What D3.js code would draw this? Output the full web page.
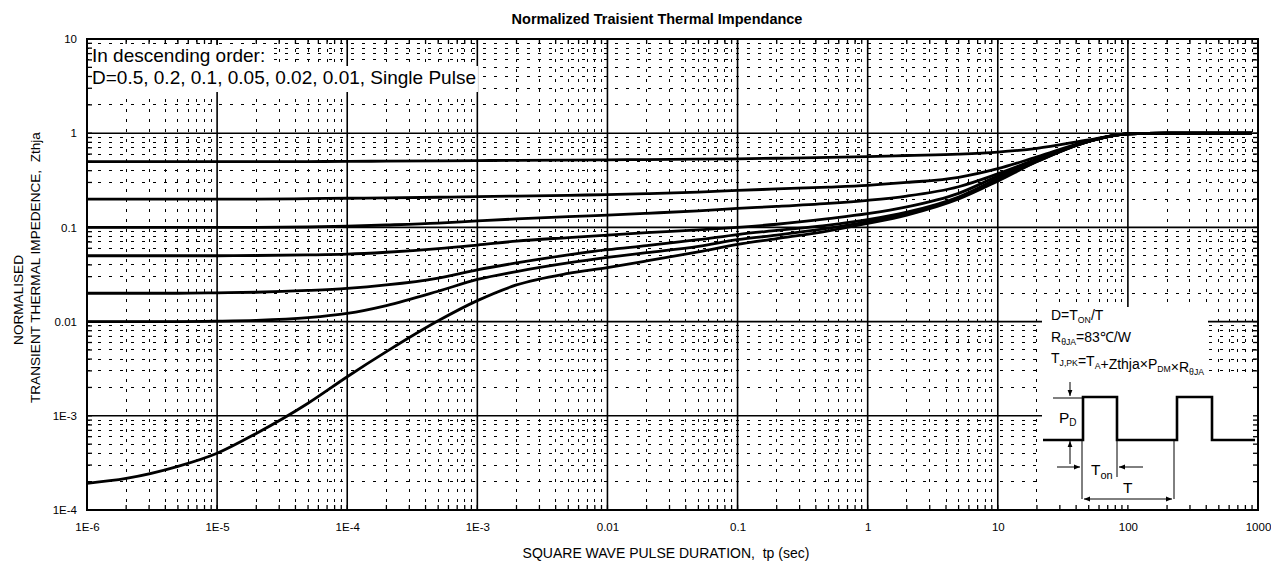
<!DOCTYPE html>
<html>
<head>
<meta charset="utf-8">
<script src="https://cdn.jsdelivr.net/npm/d3@7"></script>
<style>
  body { margin: 0; background: #fff; }
  text { font-family: "Liberation Sans", Arial, sans-serif; fill: #000; }
</style>
</head>
<body>
<div id="chart"></div>
<script>
// pulse duration (sec), shared by every curve
const tp = [1e-6, 2e-6, 5e-6, 1e-5, 2e-5, 5e-5, 1e-4, 2e-4, 5e-4, 1e-3, 2e-3, 5e-3,
  0.01, 0.02, 0.05, 0.1, 0.2, 0.5, 1, 2, 5, 10, 20, 50, 100, 200, 500, 900];

// normalised Zthja per duty cycle
const zD050 = [0.5, 0.5, 0.5, 0.5, 0.5, 0.5, 0.502, 0.505, 0.509, 0.512, 0.515, 0.518,
  0.521, 0.525, 0.53, 0.535, 0.542, 0.553, 0.565, 0.58, 0.6, 0.63, 0.69, 0.85, 0.985, 1, 1, 1];
const zD020 = [0.2, 0.2, 0.2, 0.2, 0.2, 0.202, 0.204, 0.206, 0.209, 0.212, 0.215, 0.219,
  0.223, 0.228, 0.237, 0.247, 0.256, 0.268, 0.28, 0.3, 0.34, 0.42, 0.56, 0.83, 0.985, 1, 1, 1];
const zD010 = [0.1, 0.1, 0.1, 0.1, 0.1, 0.101, 0.103, 0.106, 0.111, 0.117, 0.123, 0.13,
  0.135, 0.141, 0.15, 0.159, 0.167, 0.18, 0.194, 0.215, 0.27, 0.37, 0.53, 0.82, 0.985, 1, 1, 1];
const zD005 = [0.05, 0.05, 0.05, 0.05, 0.0503, 0.051, 0.052, 0.0545, 0.0595, 0.065, 0.0715, 0.078,
  0.083, 0.088, 0.094, 0.1, 0.108, 0.124, 0.14, 0.165, 0.23, 0.35, 0.52, 0.82, 0.985, 1, 1, 1];
const zD002 = [0.02, 0.02, 0.02, 0.0202, 0.0205, 0.0214, 0.0225, 0.0245, 0.029, 0.0355, 0.042, 0.051,
  0.058, 0.064, 0.074, 0.084, 0.093, 0.106, 0.121, 0.145, 0.21, 0.33, 0.51, 0.82, 0.985, 1, 1, 1];
const zD001 = [0.01, 0.01, 0.01, 0.0101, 0.0103, 0.011, 0.0122, 0.0148, 0.021, 0.028, 0.034, 0.042,
  0.048, 0.054, 0.063, 0.074, 0.083, 0.098, 0.115, 0.14, 0.205, 0.32, 0.5, 0.82, 0.985, 1, 1, 1];
const zSingle = [1.92e-4, 2.16e-4, 2.9e-4, 4.0e-4, 6.5e-4, 1.36e-3, 2.6e-3, 4.8e-3, 0.0102, 0.0167, 0.0245, 0.0325,
  0.0375, 0.044, 0.055, 0.066, 0.076, 0.092, 0.11, 0.135, 0.2, 0.31, 0.5, 0.82, 0.985, 1, 1, 1];

const xTickValues = [1e-6, 1e-5, 1e-4, 1e-3, 0.01, 0.1, 1, 10, 100, 1000];
const xTickLabels = ["1E-6", "1E-5", "1E-4", "1E-3", "0.01", "0.1", "1", "10", "100", "1000"];
const yTickValues = [1e-4, 1e-3, 0.01, 0.1, 1, 10];
const yTickLabels = ["1E-4", "1E-3", "0.01", "0.1", "1", "10"];

const width = 1271, height = 561;
const margin = {top: 39, right: 13, bottom: 51, left: 87};
const innerW = width - margin.left - margin.right;
const innerH = height - margin.top - margin.bottom;

const svg = d3.select("#chart").append("svg")
  .attr("width", width)
  .attr("height", height);

const defs = svg.append("defs");
defs.append("marker")
  .attr("id", "arr")
  .attr("viewBox", "0 0 10 10")
  .attr("refX", 10).attr("refY", 5)
  .attr("markerWidth", 6).attr("markerHeight", 6)
  .attr("orient", "auto-start-reverse")
  .append("path").attr("d", "M0,1L10,5L0,9z").attr("fill", "#000");

const g = svg.append("g").attr("transform", `translate(${margin.left},${margin.top})`);

const x = d3.scaleLog().domain([1e-6, 1000]).range([0, innerW]);
const y = d3.scaleLog().domain([1e-4, 10]).range([innerH, 0]);

const isMajor = v => Math.abs(Math.log10(v) - Math.round(Math.log10(v))) < 1e-6;
const xMinor = x.ticks().filter(v => !isMajor(v));
const yMinor = y.ticks().filter(v => !isMajor(v));

// minor grid (dashed)
g.append("g").selectAll("line").data(yMinor).join("line")
  .attr("x1", 0).attr("x2", innerW)
  .attr("y1", d => y(d)).attr("y2", d => y(d))
  .attr("stroke", "#000").attr("stroke-width", 1)
  .attr("stroke-dasharray", "3,8").attr("shape-rendering", "crispEdges");

g.append("g").selectAll("line").data(xMinor).join("line")
  .attr("x1", d => x(d)).attr("x2", d => x(d))
  .attr("y1", 0).attr("y2", innerH)
  .attr("stroke", "#000").attr("stroke-width", 1)
  .attr("stroke-dasharray", "3,7").attr("shape-rendering", "crispEdges");

// major grid
g.append("g").selectAll("line").data(yTickValues).join("line")
  .attr("x1", 0).attr("x2", innerW)
  .attr("y1", d => y(d)).attr("y2", d => y(d))
  .attr("stroke", "#000").attr("stroke-width", 1.6);

g.append("g").selectAll("line").data(xTickValues).join("line")
  .attr("x1", d => x(d)).attr("x2", d => x(d))
  .attr("y1", 0).attr("y2", innerH)
  .attr("stroke", "#000").attr("stroke-width", 1.6);

// curves
const series = [zD050, zD020, zD010, zD005, zD002, zD001, zSingle];
const line = d3.line()
  .x(d => x(d[0]))
  .y(d => y(d[1]))
  .curve(d3.curveMonotoneX);

g.append("g").selectAll("path").data(series).join("path")
  .attr("d", s => line(tp.map((t, i) => [t, s[i]])))
  .attr("fill", "none")
  .attr("stroke", "#000")
  .attr("stroke-width", 2.8)
  .attr("stroke-linejoin", "round");

// legend text with white backing
const legendLines = ["In descending order:", "D=0.5, 0.2, 0.1, 0.05, 0.02, 0.01, Single Pulse"];
const legend = svg.append("g");
legendLines.forEach((s, i) => {
  const row = legend.append("g");
  const rect = row.append("rect").attr("fill", "#fff");
  const t = row.append("text")
    .attr("x", 92).attr("y", 61.5 + i * 22.5)
    .attr("font-size", 19)
    .text(s);
  const b = t.node().getBBox();
  rect.attr("x", 89).attr("y", i === 0 ? 45 : 66)
    .attr("width", b.x + b.width - 89 + 2)
    .attr("height", i === 0 ? 21 : 26);
});

// inset with formula and pulse diagram
const inset = svg.append("g");
inset.append("rect").attr("x", 1042).attr("y", 307).attr("width", 166).attr("height", 71).attr("fill", "#fff");
inset.append("rect").attr("x", 1042).attr("y", 376).attr("width", 215).attr("height", 133).attr("fill", "#fff");

const f1 = inset.append("text").attr("x", 1051).attr("y", 320).attr("font-size", 14);
f1.append("tspan").text("D=T");
f1.append("tspan").attr("font-size", 8.7).attr("dy", 3).text("ON");
f1.append("tspan").attr("dy", -3).text("/T");

const f2 = inset.append("text").attr("x", 1051).attr("y", 341.5).attr("font-size", 14);
f2.append("tspan").text("R");
f2.append("tspan").attr("font-size", 8.7).attr("dy", 3).text("θJA");
f2.append("tspan").attr("dy", -3).text("=83\u2103/W");

const f3 = inset.append("text").attr("x", 1051).attr("y", 363).attr("font-size", 14);
[["T", "J,PK"], ["=T", "A"], ["+Zthja×P", "DM"], ["×R", "θJA"]].forEach(([m, s]) => {
  f3.append("tspan").text(m);
  f3.append("tspan").attr("font-size", 8.7).attr("dy", 3).text(s);
  f3.append("tspan").attr("dy", -3).text("");
});

// pulse train
inset.append("path")
  .attr("d", "M1043,440H1083V397H1117V440H1177V397H1212V440H1255")
  .attr("fill", "none").attr("stroke", "#000").attr("stroke-width", 2.6);

const thin = (x1, y1, x2, y2, arrow) => {
  const l = inset.append("line")
    .attr("x1", x1).attr("y1", y1).attr("x2", x2).attr("y2", y2)
    .attr("stroke", "#000").attr("stroke-width", 1);
  if (arrow === "end" || arrow === "both") l.attr("marker-end", "url(#arr)");
  if (arrow === "both") l.attr("marker-start", "url(#arr)");
};
thin(1053, 398, 1083, 398);
thin(1070, 382, 1070, 396, "end");
thin(1070, 464, 1070, 441, "end");
thin(1082, 440, 1082, 499);
thin(1117, 440, 1117, 477);
thin(1174, 440, 1174, 499);
thin(1057, 467, 1080, 467, "end");
thin(1143, 467, 1119, 467, "end");
thin(1084, 499, 1172, 499, "both");

const pd = inset.append("text").attr("x", 1059).attr("y", 422.5).attr("font-size", 15.5);
pd.append("tspan").text("P");
pd.append("tspan").attr("font-size", 10).attr("dy", 3).text("D");
const ton = inset.append("text").attr("x", 1091).attr("y", 475).attr("font-size", 15.5);
ton.append("tspan").text("T");
ton.append("tspan").attr("font-size", 11).attr("dy", 4).text("on");
inset.append("text").attr("x", 1123).attr("y", 493).attr("font-size", 15.5).text("T");

// inner ticks on all four sides
const ticks = svg.append("g").attr("transform", `translate(${margin.left},${margin.top})`);
const xAll = x.ticks(), yAll = y.ticks();
ticks.append("g").selectAll("line").data(xAll).join("line")
  .attr("x1", d => x(d)).attr("x2", d => x(d))
  .attr("y1", innerH).attr("y2", innerH - 5)
  .attr("stroke", "#000").attr("stroke-width", 1.3);
ticks.append("g").selectAll("line").data(xAll).join("line")
  .attr("x1", d => x(d)).attr("x2", d => x(d))
  .attr("y1", 0).attr("y2", 5)
  .attr("stroke", "#000").attr("stroke-width", 1.3);
ticks.append("g").selectAll("line").data(yAll).join("line")
  .attr("x1", 0).attr("x2", 5)
  .attr("y1", d => y(d)).attr("y2", d => y(d))
  .attr("stroke", "#000").attr("stroke-width", 1.3);
ticks.append("g").selectAll("line").data(yAll).join("line")
  .attr("x1", innerW).attr("x2", innerW - 5)
  .attr("y1", d => y(d)).attr("y2", d => y(d))
  .attr("stroke", "#000").attr("stroke-width", 1.3);

// frame
ticks.append("rect")
  .attr("width", innerW).attr("height", innerH)
  .attr("fill", "none").attr("stroke", "#000").attr("stroke-width", 2);

// axis labels
const xAxis = ticks.append("g")
  .attr("transform", `translate(0,${innerH})`)
  .call(d3.axisBottom(x).tickValues(xTickValues)
    .tickFormat((d, i) => xTickLabels[i]).tickSize(0).tickPadding(13));
const yAxis = ticks.append("g")
  .call(d3.axisLeft(y).tickValues(yTickValues)
    .tickFormat((d, i) => yTickLabels[i]).tickSize(0).tickPadding(10));
[xAxis, yAxis].forEach(a => {
  a.select(".domain").remove();
  a.selectAll("text").attr("font-size", 11.5).attr("font-family", "Liberation Sans, Arial, sans-serif");
});

// titles
svg.append("text")
  .attr("x", 657).attr("y", 24)
  .attr("text-anchor", "middle")
  .attr("font-size", 14.5).attr("font-weight", "bold")
  .text("Normalized Traisient Thermal Impendance");

svg.append("text")
  .attr("x", 666).attr("y", 558)
  .attr("text-anchor", "middle")
  .attr("font-size", 14)
  .style("white-space", "pre")
  .text("SQUARE WAVE PULSE DURATION,  tp (sec)");

svg.append("text")
  .attr("transform", "translate(23,300) rotate(-90)")
  .attr("text-anchor", "middle")
  .attr("font-size", 13.6)
  .text("NORMALISED");

svg.append("text")
  .attr("transform", "translate(40,403) rotate(-90)")
  .attr("font-size", 13.6)
  .style("white-space", "pre")
  .text("TRANSIENT THERMAL IMPEDENCE,  Zthja");
</script>
</body>
</html>
